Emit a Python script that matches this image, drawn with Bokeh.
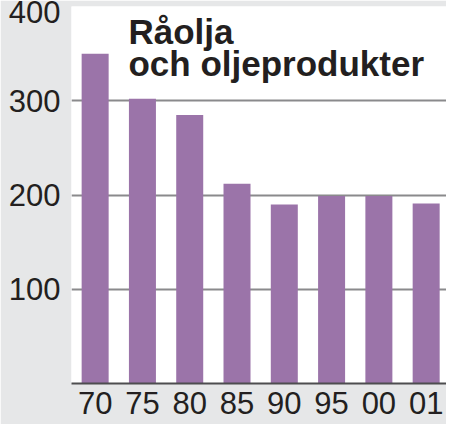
from bokeh.plotting import figure
from bokeh.models import FixedTicker, Range1d, Label, ColumnDataSource
from bokeh.embed import file_html
from bokeh.resources import INLINE

years = ["70", "75", "80", "85", "90", "95", "00", "01"]
values = [350, 302, 285, 212, 190, 199, 199, 191]
y_ticks = [100, 200, 300, 400]
title_lines = ["Råolja", "och oljeprodukter"]

BG = "#e6e7e8"
BAR = "#9b74a9"
TXT = "#231f20"
FONT = "Liberation Sans"

xs = list(range(len(years)))
src = ColumnDataSource(dict(x=xs, top=values))

p = figure(width=446, height=424, output_backend="svg", toolbar_location=None,
           x_range=Range1d(-0.5, 7.43), y_range=Range1d(0, 400),
           min_border_left=71, min_border_right=0, min_border_top=6, min_border_bottom=41)
p.border_fill_color = BG
p.background_fill_color = "white"
p.outline_line_color = None

p.vbar(x="x", top="top", width=0.571, source=src, fill_color=BAR, line_color=None)

# axes
p.xaxis.ticker = FixedTicker(ticks=xs)
p.xaxis.major_label_overrides = {i: y for i, y in enumerate(years)}
p.yaxis.ticker = FixedTicker(ticks=y_ticks)
for ax in (p.xaxis, p.yaxis):
    ax.major_label_text_font = FONT
    ax.major_label_text_font_size = "31px"
    ax.major_label_text_color = TXT
    ax.major_tick_line_color = None
    ax.major_tick_out = 0
    ax.major_tick_in = 0
    ax.minor_tick_line_color = None
p.yaxis.axis_line_color = None
p.yaxis.major_label_standoff = 11
p.xaxis.axis_line_color = "#4d4d4f"
p.xaxis.axis_line_width = 2
p.xaxis.major_label_standoff = 8

p.xgrid.grid_line_color = None
p.ygrid.ticker = FixedTicker(ticks=[100, 200, 300])
p.ygrid.grid_line_color = "#8a8a8c"
p.ygrid.grid_line_width = 2

l1 = Label(x=0.705, y=374, text=title_lines[0], text_font=FONT, text_baseline="alphabetic",
           text_font_style="bold", text_font_size="35px", text_color=TXT)
l2 = Label(x=0.705, y=339, text=title_lines[1], text_font=FONT, text_baseline="alphabetic",
           text_font_style="bold", text_font_size="35px", text_color=TXT)
p.add_layout(l1)
p.add_layout(l2)

open("out.html", "w").write(file_html(p, INLINE))
